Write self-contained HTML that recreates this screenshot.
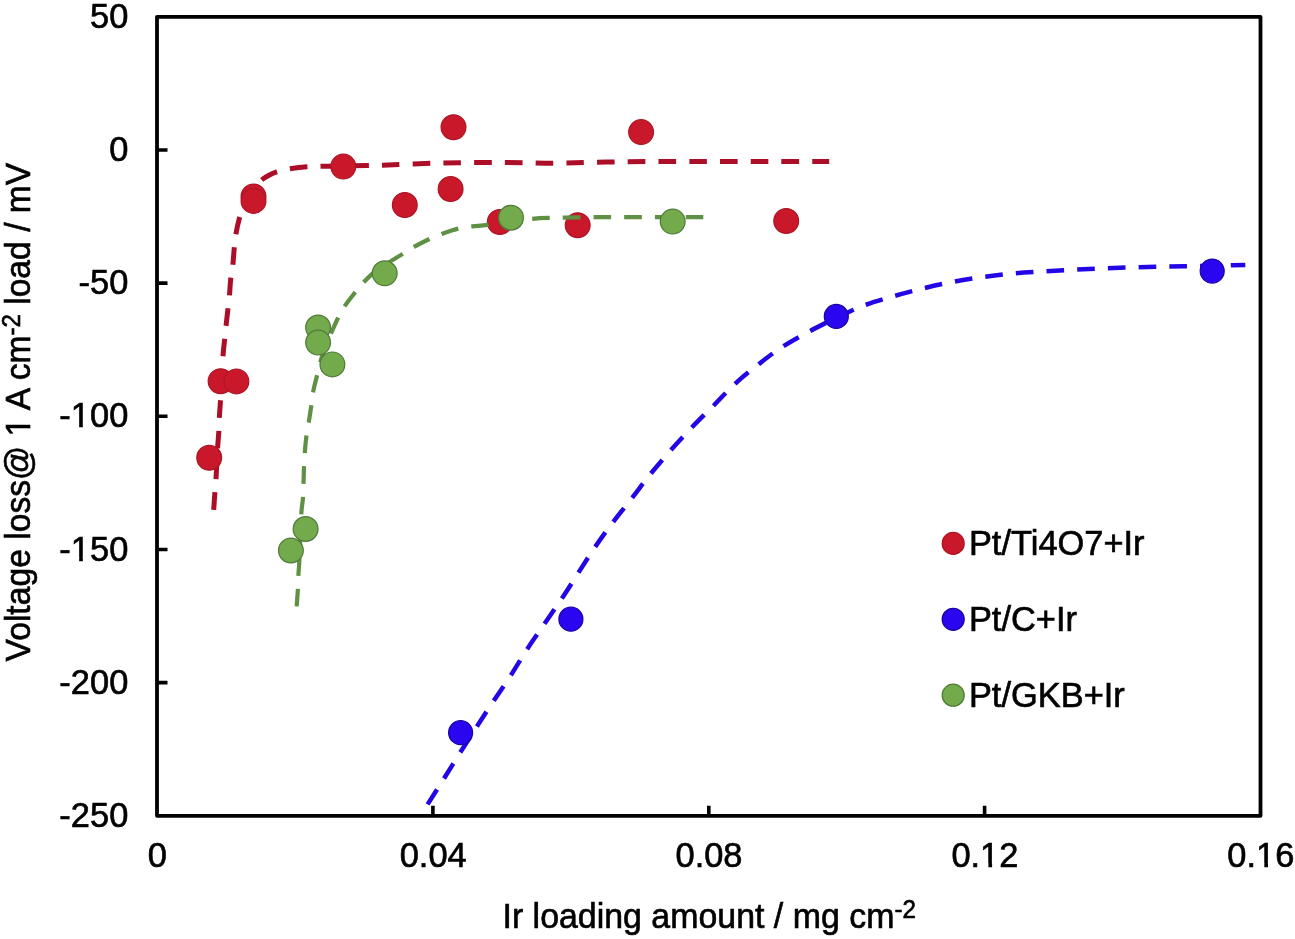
<!DOCTYPE html>
<html><head><meta charset="utf-8"><title>Voltage loss vs Ir loading</title>
<style>
html,body{margin:0;padding:0;background:#fff;}
body{width:1295px;height:939px;overflow:hidden;}
svg{display:block;will-change:transform;filter:blur(0.45px);}
text{font-family:"Liberation Sans",sans-serif;font-size:35.8px;fill:#000;stroke:#000;stroke-width:0.65px;}
.tk{font-size:35.5px;}
.sup{font-size:25.5px;}
.dash{fill:none;stroke-dasharray:17.6 13.1;}
</style></head><body>
<svg width="1295" height="939" viewBox="0 0 1295 939">
<rect width="1295" height="939" fill="#fff"/>
<rect x="157.0" y="16.8" width="1103.5" height="799.0" fill="none" stroke="#000" stroke-width="3.8" stroke-linejoin="round"/>
<path d="M157.0 150.0 h10.5 M157.0 283.1 h10.5 M157.0 416.3 h10.5 M157.0 549.5 h10.5 M157.0 682.6 h10.5 M432.9 815.8 v-10 M708.8 815.8 v-10 M984.6 815.8 v-10" stroke="#000" stroke-width="3.6" fill="none"/>
<g transform="translate(128.3 27.9) scale(0.970 1)"><text class="tk" text-anchor="end">50</text></g>
<g transform="translate(128.3 161.1) scale(0.970 1)"><text class="tk" text-anchor="end">0</text></g>
<g transform="translate(128.3 294.2) scale(0.970 1)"><text class="tk" text-anchor="end">-50</text></g>
<g transform="translate(128.3 427.4) scale(0.970 1)"><text class="tk" text-anchor="end">-100</text><rect x="-58.53" y="-3.55" width="7.85" height="5.15" fill="#fff"/><rect x="-46.86" y="-3.55" width="7.50" height="5.15" fill="#fff"/></g>
<g transform="translate(128.3 560.6) scale(0.970 1)"><text class="tk" text-anchor="end">-150</text><rect x="-58.53" y="-3.55" width="7.85" height="5.15" fill="#fff"/><rect x="-46.86" y="-3.55" width="7.50" height="5.15" fill="#fff"/></g>
<g transform="translate(128.3 693.7) scale(0.970 1)"><text class="tk" text-anchor="end">-200</text></g>
<g transform="translate(128.3 826.9) scale(0.970 1)"><text class="tk" text-anchor="end">-250</text></g>
<g transform="translate(157.3 866.8) scale(0.970 1)"><text class="tk" text-anchor="middle">0</text></g>
<g transform="translate(433.2 866.8) scale(0.970 1)"><text class="tk" text-anchor="middle">0.04</text></g>
<g transform="translate(709.0 866.8) scale(0.970 1)"><text class="tk" text-anchor="middle">0.08</text></g>
<g transform="translate(984.9 866.8) scale(0.970 1)"><text class="tk" text-anchor="middle">0.12</text><rect x="-4.24" y="-3.55" width="7.85" height="5.15" fill="#fff"/><rect x="7.44" y="-3.55" width="7.50" height="5.15" fill="#fff"/></g>
<g transform="translate(1260.8 866.8) scale(0.970 1)"><text class="tk" text-anchor="middle">0.16</text><rect x="-4.24" y="-3.55" width="7.85" height="5.15" fill="#fff"/><rect x="7.44" y="-3.55" width="7.50" height="5.15" fill="#fff"/></g>
<g transform="translate(502.5 928.0) scale(0.947 1)"><text>Ir loading amount / mg cm<tspan class="sup" dy="-10">-2</tspan></text></g>
<g transform="translate(30.0 661.4) rotate(-90) scale(0.940 1)"><text>Voltage loss@ 1 A cm<tspan class="sup" dy="-10">-2</tspan><tspan dy="10"> load / mV</tspan></text><rect x="239.99" y="-3.58" width="7.92" height="5.19" fill="#fff"/><rect x="251.76" y="-3.58" width="7.56" height="5.19" fill="#fff"/></g>
<path class="dash" d="M213.7 509.8 C213.9 506.9 214.5 497.7 214.9 492.5 C215.3 487.3 215.6 486.2 216.0 478.8 C216.4 471.4 217.1 455.8 217.6 448.0 C218.1 440.2 218.5 437.0 218.8 432.0 C219.1 427.0 219.0 423.1 219.3 417.8 C219.6 412.5 219.9 410.5 220.5 400.4 C221.1 390.3 222.2 367.3 222.9 357.2 C223.6 347.1 224.1 344.9 224.6 339.7 C225.1 334.5 225.4 331.2 226.0 326.0 C226.6 320.8 227.4 313.5 228.0 308.5 C228.6 303.5 228.9 300.9 229.4 295.9 C229.9 290.9 230.2 283.4 230.8 278.3 C231.4 273.2 232.2 270.3 232.8 265.2 C233.4 260.1 233.8 252.7 234.3 247.6 C234.8 242.5 234.9 239.6 235.8 234.6 C236.7 229.6 238.2 222.4 239.6 217.3 C241.0 212.2 242.3 208.0 244.0 204.0 C245.7 200.0 247.6 196.6 249.5 193.5 C251.4 190.4 253.4 187.8 255.5 185.5 C257.6 183.2 259.8 181.3 262.0 179.6 C264.2 177.9 266.6 176.6 269.0 175.3 C271.4 174.0 273.3 173.0 276.7 171.9 C280.1 170.8 284.4 169.7 289.5 168.8 C294.6 168.0 300.9 167.2 307.3 166.8 C313.7 166.4 315.5 166.5 328.0 166.2 C340.5 165.9 363.2 165.8 382.4 165.2 C401.6 164.6 422.8 163.3 443.2 162.9 C463.6 162.5 486.6 162.6 504.9 162.6 C523.2 162.6 537.5 163.2 552.9 163.2 C568.3 163.1 581.9 162.6 597.3 162.3 C612.6 162.0 626.8 161.8 645.0 161.6 C663.2 161.4 686.1 161.4 706.6 161.4 C727.1 161.4 747.8 161.4 768.2 161.4 C788.6 161.4 819.0 161.5 829.2 161.5" stroke="#ac0e27" stroke-width="5.0" pathLength="907.3"/>
<circle cx="209.2" cy="457.8" r="12.4" fill="#c9182a" stroke="#ad1526" stroke-width="1.2"/>
<circle cx="220.6" cy="381.2" r="12.4" fill="#c9182a" stroke="#ad1526" stroke-width="1.2"/>
<circle cx="236.4" cy="381.4" r="12.4" fill="#c9182a" stroke="#ad1526" stroke-width="1.2"/>
<circle cx="253.5" cy="196.5" r="12.4" fill="#c9182a" stroke="#ad1526" stroke-width="1.2"/>
<circle cx="253.5" cy="200.9" r="12.4" fill="#c9182a" stroke="#ad1526" stroke-width="1.2"/>
<circle cx="343.3" cy="166.6" r="12.4" fill="#c9182a" stroke="#ad1526" stroke-width="1.2"/>
<circle cx="404.8" cy="205.0" r="12.4" fill="#c9182a" stroke="#ad1526" stroke-width="1.2"/>
<circle cx="450.6" cy="189.0" r="12.4" fill="#c9182a" stroke="#ad1526" stroke-width="1.2"/>
<circle cx="453.5" cy="127.2" r="12.4" fill="#c9182a" stroke="#ad1526" stroke-width="1.2"/>
<circle cx="499.8" cy="222.0" r="12.4" fill="#c9182a" stroke="#ad1526" stroke-width="1.2"/>
<circle cx="577.7" cy="225.2" r="12.4" fill="#c9182a" stroke="#ad1526" stroke-width="1.2"/>
<circle cx="641.1" cy="132.1" r="12.4" fill="#c9182a" stroke="#ad1526" stroke-width="1.2"/>
<circle cx="786.2" cy="221.0" r="12.4" fill="#c9182a" stroke="#ad1526" stroke-width="1.2"/>
<path class="dash" d="M427.6 804.4 C430.2 800.2 438.0 788.0 443.5 779.3 C449.0 770.6 454.8 761.1 460.4 752.3 C465.9 743.5 471.3 735.1 476.8 726.6 C482.3 718.1 487.6 709.9 493.2 701.5 C498.8 693.1 504.7 684.8 510.3 676.2 C515.9 667.6 521.0 658.6 526.7 649.9 C532.4 641.2 538.5 632.6 544.3 624.1 C550.1 615.6 555.8 607.5 561.5 599.0 C567.2 590.5 572.7 581.5 578.3 572.9 C583.9 564.3 589.1 555.8 594.9 547.3 C600.7 538.8 607.1 530.0 613.3 521.8 C619.5 513.6 625.7 506.1 632.0 498.0 C638.3 489.9 644.6 481.2 651.1 473.3 C657.6 465.4 664.0 458.0 670.8 450.3 C677.6 442.6 684.9 434.8 692.0 427.3 C699.1 419.8 706.5 412.8 713.7 405.5 C720.9 398.2 727.5 390.7 735.0 383.8 C742.5 376.9 750.5 370.5 758.5 364.3 C766.5 358.1 774.6 351.9 783.1 346.4 C791.6 340.9 800.8 336.0 809.7 331.2 C818.6 326.4 829.0 321.4 836.3 317.8 C843.6 314.2 848.8 312.0 853.6 309.8 C858.4 307.6 858.4 307.2 865.3 304.9 C872.2 302.6 885.2 298.6 895.1 295.8 C905.0 293.0 914.9 290.4 924.8 288.0 C934.7 285.6 944.6 283.4 954.6 281.5 C964.6 279.6 974.8 278.2 984.9 276.8 C995.0 275.4 1005.2 274.1 1015.4 273.2 C1025.6 272.3 1035.9 271.8 1046.1 271.2 C1056.3 270.6 1066.5 270.1 1076.7 269.6 C1087.0 269.1 1097.3 268.6 1107.6 268.2 C1117.9 267.8 1128.2 267.5 1138.5 267.2 C1148.8 266.9 1159.0 266.7 1169.2 266.5 C1179.5 266.3 1189.7 266.1 1200.0 265.9 C1210.3 265.7 1223.2 265.5 1230.8 265.3 C1238.3 265.1 1242.9 265.0 1245.3 264.9" stroke="#2206e6" stroke-width="4.5" pathLength="1058.3"/>
<circle cx="460.6" cy="732.7" r="12.0" fill="#2a06f0" stroke="#1a04a0" stroke-width="1.2"/>
<circle cx="570.9" cy="619.2" r="12.0" fill="#2a06f0" stroke="#1a04a0" stroke-width="1.2"/>
<circle cx="836.3" cy="316.4" r="12.0" fill="#2a06f0" stroke="#1a04a0" stroke-width="1.2"/>
<circle cx="1212.2" cy="271.1" r="12.0" fill="#2a06f0" stroke="#1a04a0" stroke-width="1.2"/>
<path class="dash" d="M296.7 606.4 C296.9 603.5 297.6 594.2 297.9 589.0 C298.2 583.8 298.1 579.9 298.4 575.1 C298.6 570.3 298.9 570.2 299.4 560.0 C299.9 549.8 300.7 524.6 301.3 514.1 C301.9 503.6 302.6 504.9 303.0 497.0 C303.4 489.1 303.7 474.7 304.0 466.9 C304.3 459.1 304.6 455.2 305.0 450.0 C305.4 444.8 305.9 440.0 306.5 435.4 C307.1 430.8 307.9 427.6 308.7 422.6 C309.5 417.6 310.6 410.8 311.3 405.6 C312.1 400.5 312.2 396.7 313.2 391.7 C314.1 386.7 315.6 381.3 317.0 375.7 C318.4 370.1 320.0 363.1 321.5 358.0 C323.0 352.9 324.4 349.0 326.0 345.0 C327.6 341.0 328.9 338.3 330.9 333.8 C332.9 329.3 335.5 322.9 337.9 318.2 C340.3 313.5 342.3 309.8 345.2 305.4 C348.1 301.0 352.3 295.9 355.4 292.0 C358.5 288.1 360.8 285.2 363.9 282.0 C367.0 278.8 370.1 275.6 374.0 272.5 C377.9 269.4 382.3 266.5 387.0 263.5 C391.7 260.5 397.7 257.1 402.2 254.3 C406.7 251.5 409.4 249.5 414.0 246.9 C418.6 244.3 424.8 241.2 429.5 239.0 C434.2 236.8 437.6 235.4 442.3 233.7 C447.1 232.0 453.0 229.8 458.0 228.6 C463.0 227.4 467.2 227.0 472.1 226.4 C477.0 225.8 481.1 225.8 487.4 224.9 C493.7 224.0 502.5 222.2 510.0 221.2 C517.5 220.2 525.7 219.4 532.4 218.8 C539.1 218.2 539.9 218.2 550.0 217.9 C560.1 217.6 577.7 217.3 593.0 217.2 C608.3 217.1 623.2 217.2 641.6 217.2 C660.0 217.2 693.0 217.2 703.3 217.2" stroke="#5f9043" stroke-width="4.2" pathLength="693.0"/>
<circle cx="290.9" cy="550.5" r="12.4" fill="#73aa4b" stroke="#4f7a38" stroke-width="1.2"/>
<circle cx="305.6" cy="529.0" r="12.4" fill="#73aa4b" stroke="#4f7a38" stroke-width="1.2"/>
<circle cx="318.1" cy="327.5" r="12.4" fill="#73aa4b" stroke="#4f7a38" stroke-width="1.2"/>
<circle cx="318.1" cy="342.6" r="12.4" fill="#73aa4b" stroke="#4f7a38" stroke-width="1.2"/>
<circle cx="332.4" cy="364.4" r="12.4" fill="#73aa4b" stroke="#4f7a38" stroke-width="1.2"/>
<circle cx="384.7" cy="273.3" r="12.4" fill="#73aa4b" stroke="#4f7a38" stroke-width="1.2"/>
<circle cx="511.0" cy="217.7" r="12.4" fill="#73aa4b" stroke="#4f7a38" stroke-width="1.2"/>
<circle cx="672.7" cy="221.6" r="12.4" fill="#73aa4b" stroke="#4f7a38" stroke-width="1.2"/>
<circle cx="953.2" cy="543.4" r="11.0" fill="#c9182a" stroke="#ad1526" stroke-width="1.2"/>
<g transform="translate(968.9 555.0) scale(0.962 1)"><text text-anchor="start">Pt/Ti4O7+Ir</text></g>
<circle cx="953.2" cy="619.3" r="11.0" fill="#2a06f0" stroke="#1a04a0" stroke-width="1.2"/>
<g transform="translate(968.9 630.9) scale(0.962 1)"><text text-anchor="start">Pt/C+Ir</text></g>
<circle cx="953.2" cy="695.2" r="11.0" fill="#73aa4b" stroke="#4f7a38" stroke-width="1.2"/>
<g transform="translate(968.9 706.8) scale(0.962 1)"><text text-anchor="start">Pt/GKB+Ir</text></g>
</svg></body></html>
